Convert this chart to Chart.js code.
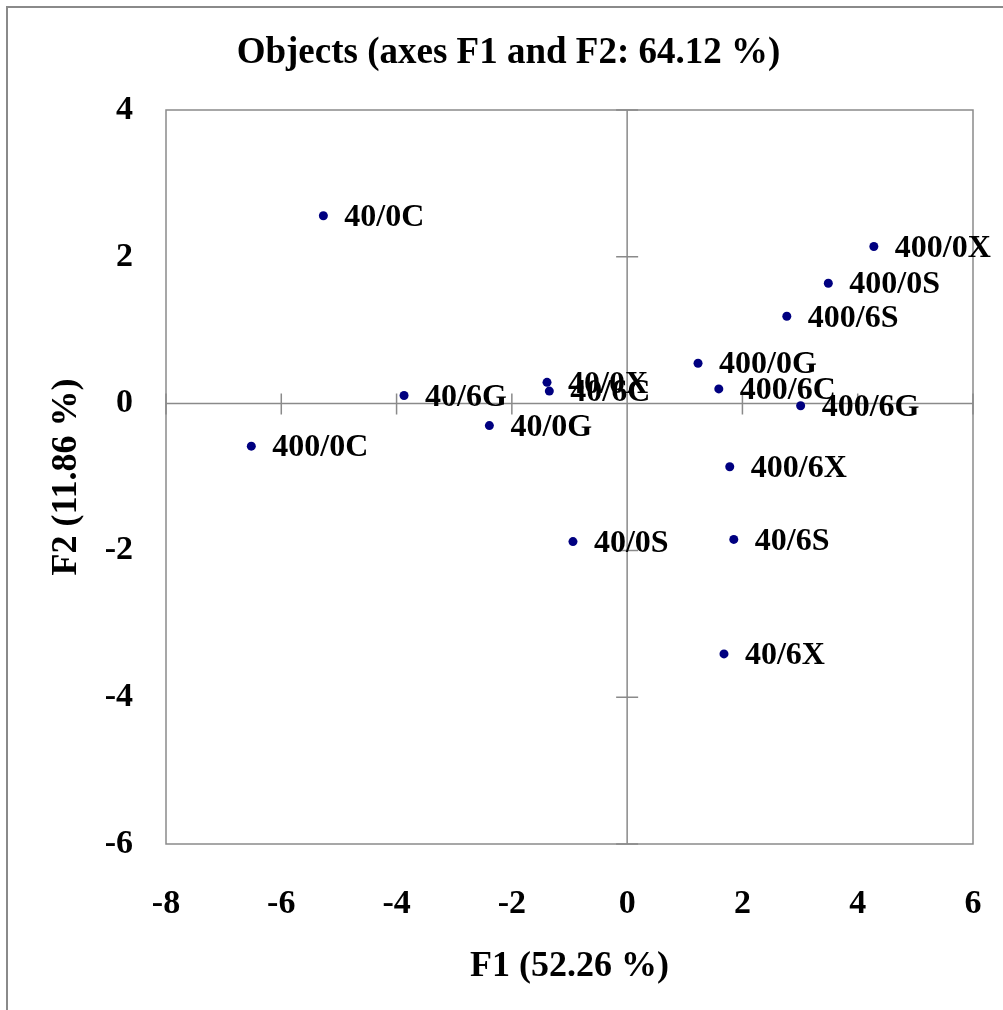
<!DOCTYPE html>
<html><head><meta charset="utf-8">
<script src="https://cdn.jsdelivr.net/npm/chart.js@4.4.1/dist/chart.umd.min.js"></script>
<style>html,body{margin:0;padding:0;background:#fff;}#wrap{width:1003px;height:1010px;}</style>
</head><body><div id="wrap"><canvas id="c" width="1003" height="1010"></canvas></div>
<script>
const pointLabels = ['40/0C','400/0C','40/6G','40/0G','40/0X','40/6C','40/0S','400/0G','400/6C','400/6G','400/6X','40/6S','40/6X','400/6S','400/0S','400/0X'];
const f1Values = [-5.27,-6.52,-3.87,-2.39,-1.39,-1.35,-0.94,1.23,1.59,3.01,1.78,1.85,1.68,2.77,3.49,4.28];
const f2Values = [2.56,-0.58,0.11,-0.30,0.29,0.17,-1.88,0.55,0.20,-0.03,-0.86,-1.85,-3.41,1.19,1.64,2.14];
const xTickValues = [-8,-6,-4,-2,0,2,4,6];
const yTickValues = [-6,-4,-2,0,2,4];
const chartTitle = 'Objects (axes F1 and F2: 64.12 %)';
const xTitle = 'F1 (52.26 %)';
const yTitle = 'F2 (11.86 %)';

const SERIF = "'Liberation Serif','Times New Roman',serif";
const GRAY = '#8a8a8a';

const framePlugin = {
  id: 'frame',
  beforeDatasetsDraw(chart) {
    const ctx = chart.ctx, ca = chart.chartArea;
    const xs = chart.scales.x, ys = chart.scales.y;
    ctx.save();
    ctx.strokeStyle = GRAY;
    ctx.lineWidth = 2;
    ctx.strokeRect(7, 7, 1200, 1200);
    ctx.lineWidth = 1.5;
    ctx.strokeRect(ca.left, ca.top, ca.right - ca.left, ca.bottom - ca.top);
    const x0 = xs.getPixelForValue(0), y0 = ys.getPixelForValue(0);
    ctx.beginPath();
    ctx.moveTo(x0, ca.top); ctx.lineTo(x0, ca.bottom);
    ctx.moveTo(ca.left, y0); ctx.lineTo(ca.right, y0);
    xTickValues.forEach(v => { const p = xs.getPixelForValue(v); ctx.moveTo(p, y0 - 10); ctx.lineTo(p, y0 + 11); });
    yTickValues.forEach(v => { const p = ys.getPixelForValue(v); ctx.moveTo(x0 - 11, p); ctx.lineTo(x0 + 11, p); });
    ctx.stroke();
    ctx.restore();
  }
};

const labelPlugin = {
  id: 'ptlabels',
  afterDatasetsDraw(chart) {
    const ctx = chart.ctx;
    const meta = chart.getDatasetMeta(0);
    ctx.save();
    ctx.fillStyle = '#000';
    ctx.font = "bold 32px " + SERIF;
    ctx.textAlign = 'left';
    ctx.textBaseline = 'middle';
    meta.data.forEach((el, i) => {
      ctx.fillText(pointLabels[i], el.x + 21, el.y + 2);
    });
    ctx.restore();
  }
};

new Chart(document.getElementById('c'), {
  type: 'scatter',
  data: {
    datasets: [{
      data: f1Values.map((x, i) => ({x: x, y: f2Values[i]})),
      backgroundColor: '#000080',
      borderColor: '#000080',
      borderWidth: 0,
      pointRadius: 4.5
    }]
  },
  options: {
    responsive: false,
    animation: false,
    devicePixelRatio: 1,
    layout: {padding: {left: 44, right: 30, top: 0, bottom: 0}},
    plugins: {
      legend: {display: false},
      tooltip: {enabled: false},
      title: {
        display: true, text: chartTitle, color: '#000',
        font: {family: SERIF, size: 37, weight: 'bold', lineHeight: 1.2},
        padding: {top: 31, bottom: 34.6}
      }
    },
    scales: {
      x: {
        type: 'linear', min: -8, max: 6,
        afterBuildTicks: s => { s.ticks = xTickValues.map(v => ({value: v})); },
        afterFit: s => { s.height = 166; s.paddingLeft = 0; s.paddingRight = 0; },
        grid: {display: false, drawTicks: false},
        border: {display: false},
        ticks: {color: '#000', font: {family: SERIF, size: 34, weight: 'bold'}, padding: 40, maxRotation: 0},
        title: {display: true, text: xTitle, color: '#000', font: {family: SERIF, size: 36, weight: 'bold', lineHeight: 1.2}, padding: {top: 0, bottom: 22}}
      },
      y: {
        type: 'linear', min: -6, max: 4,
        afterBuildTicks: s => { s.ticks = yTickValues.map(v => ({value: v})); },
        afterFit: s => { s.width = 122; s.paddingTop = 0; s.paddingBottom = 0; },
        grid: {display: false, drawTicks: false},
        border: {display: false},
        ticks: {color: '#000', font: {family: SERIF, size: 34, weight: 'bold'}, padding: 33},
        title: {display: true, text: yTitle, color: '#000', font: {family: SERIF, size: 36, weight: 'bold', lineHeight: 1.2}, padding: {top: 1, bottom: 0}}
      }
    }
  },
  plugins: [framePlugin, labelPlugin]
});
</script></body></html>
